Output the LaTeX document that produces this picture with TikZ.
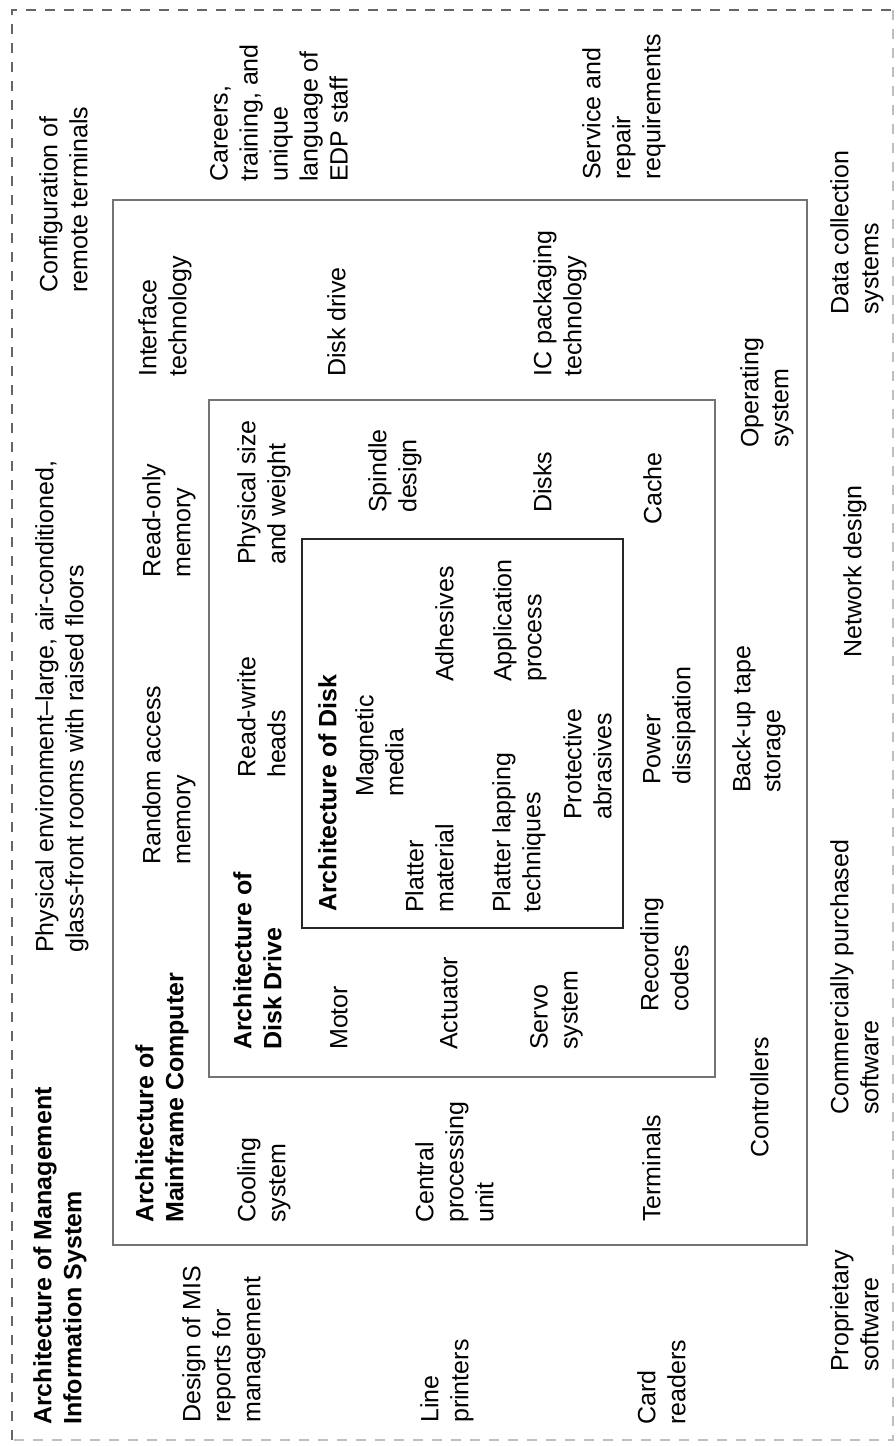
\documentclass[tikz,border=0pt]{standalone}
\usepackage{fontspec}
\setmainfont{Liberation Sans}
\begin{document}
\begin{tikzpicture}[x=1pt, y=-1pt,
    lbl/.style={rotate=90, anchor=north west, inner sep=0pt, align=left, font=\fontsize{25}{30}\selectfont},
    head/.style={lbl, font=\fontsize{25}{30}\selectfont\bfseries},
    boxline/.style={line width=1.6pt, draw=black!55}]
    \useasboundingbox (0,0) rectangle (896,1446);

    % outer frame and the three nested boxes
    \draw[black!60, line width=1.4pt, dash pattern=on 10pt off 9pt] (12,1440) -- (12,10) -- (893,10);
    \draw[black!25, line width=1.2pt, dash pattern=on 10pt off 9pt] (893,10) -- (893,1440) -- (12,1440);
    \draw[boxline] (113,200) rectangle (807,1245);
    \draw[boxline] (209,400) rectangle (715,1077);
    \draw[line width=2pt, black!85] (302,539) rectangle (623,928);

    % management information system
    \node[head] (mis) at (33,1425) {Architecture of Management\\Information System};
    \node[lbl] (physenv) at (35,953) {Physical environment\textendash large, air-conditioned,\\glass-front rooms with raised floors};
    \node[lbl] (remote) at (39,293) {Configuration of\\remote terminals};
    \node[lbl] (careers) at (210,182) {Careers,\\training, and\\unique\\language of\\EDP staff};
    \node[lbl] (service) at (582,180) {Service and\\repair\\requirements};
    \node[lbl] (datacoll) at (830,315) {Data collection\\systems};
    \node[lbl] (network) at (843,658) {Network design};
    \node[lbl] (commsoft) at (830,1115) {Commercially purchased\\software};
    \node[lbl] (propsoft) at (830,1372) {Proprietary\\software};
    \node[lbl] (reports) at (182,1423) {Design of MIS\\reports for\\management};
    \node[lbl] (printers) at (420,1423) {Line\\printers};
    \node[lbl] (cards) at (637,1425) {Card\\readers};

    % mainframe computer
    \node[head] (mainframe) at (135,1223) {Architecture of\\Mainframe Computer};
    \node[lbl] (cooling) at (237,1223) {Cooling\\system};
    \node[lbl] (cpu) at (415,1223) {Central\\processing\\unit};
    \node[lbl] (terminals) at (642,1222) {Terminals};
    \node[lbl] (controllers) at (750,1158) {Controllers};
    \node[lbl] (backup) at (732,793) {Back-up tape\\storage};
    \node[lbl] (opsys) at (740,448) {Operating\\system};
    \node[lbl] (icpack) at (533,377) {IC packaging\\technology};
    \node[lbl] (diskdrive) at (327,377) {Disk drive};
    \node[lbl] (interface) at (138,377) {Interface\\technology};
    \node[lbl] (rom) at (142,578) {Read-only\\memory};
    \node[lbl] (ram) at (142,865) {Random access\\memory};

    % disk drive
    \node[head] (drive) at (233,1050) {Architecture of\\Disk Drive};
    \node[lbl] (motor) at (330,1050) {Motor};
    \node[lbl] (actuator) at (440,1050) {Actuator};
    \node[lbl] (servo) at (530,1050) {Servo\\system};
    \node[lbl] (recording) at (640,1012) {Recording\\codes};
    \node[lbl] (power) at (643,785) {Power\\dissipation};
    \node[lbl] (cache) at (643,525) {Cache};
    \node[lbl] (disks) at (533,513) {Disks};
    \node[lbl] (spindle) at (368,513) {Spindle\\design};
    \node[lbl] (physsize) at (237,565) {Physical size\\and weight};
    \node[lbl] (rwheads) at (237,778) {Read-write\\heads};

    % disk
    \node[head] (disk) at (318,912) {Architecture of Disk};
    \node[lbl] (magnetic) at (355,797) {Magnetic\\media};
    \node[lbl] (platter) at (405,913) {Platter\\material};
    \node[lbl] (adhesives) at (435,682) {Adhesives};
    \node[lbl] (application) at (493,682) {Application\\process};
    \node[lbl] (lapping) at (492,913) {Platter lapping\\techniques};
    \node[lbl] (protective) at (563,820) {Protective\\abrasives};
\end{tikzpicture}
\end{document}
